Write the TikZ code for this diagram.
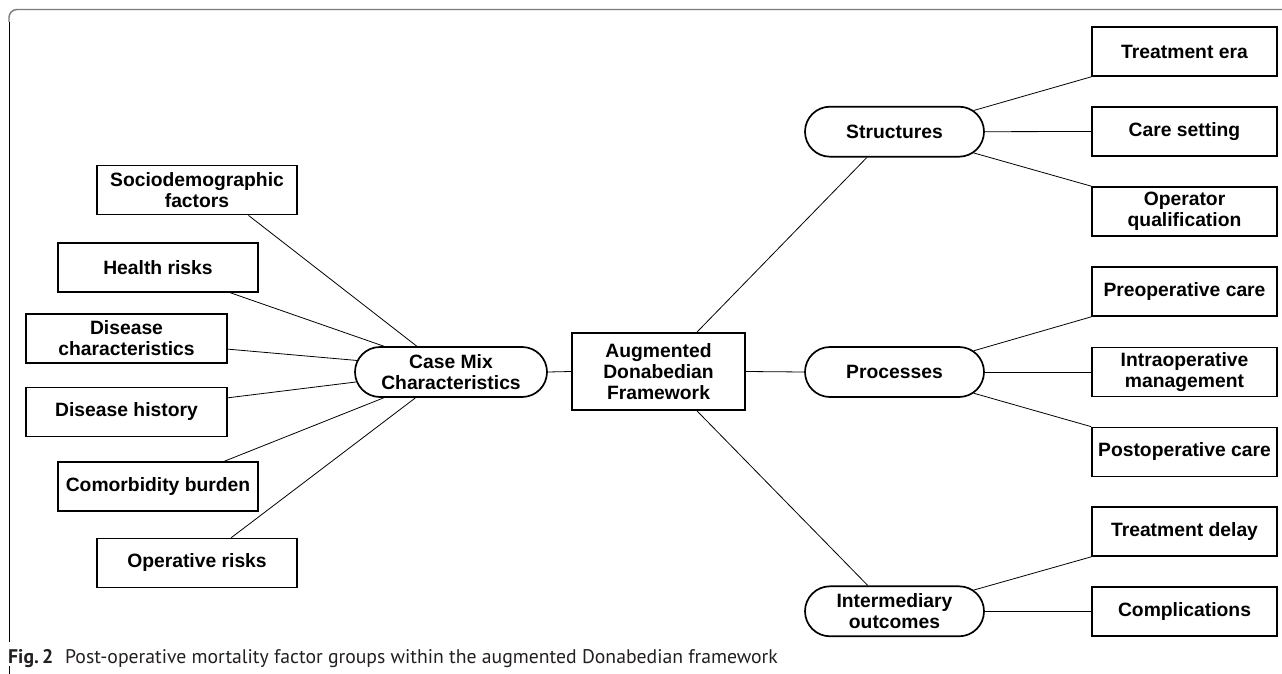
\documentclass[tikz,border=0pt]{standalone}
\usepackage{fontspec}
\setmainfont{Liberation Sans}
\newfontfamily\capfont{PT Sans}
\usetikzlibrary{shapes.misc,calc}
\definecolor{captext}{HTML}{231F20}
\definecolor{framegray}{HTML}{7A7A7A}
\begin{document}
\begin{tikzpicture}[x=1pt,y=-1pt,
  every node/.style={font=\fontsize{19.3}{21}\selectfont\bfseries, align=center, inner sep=0pt},
  box/.style={draw, line width=1.7pt, fill=white, minimum height=49pt},
  lbox/.style={box, minimum width=200pt},
  rbox/.style={box, minimum width=185pt},
  pill/.style={draw, line width=1.7pt, rounded rectangle, minimum height=50pt, fill=white},
  link/.style={line width=0.8pt},
  framelineA/.style={framegray, line width=1.4pt},
  framelineB/.style={black, line width=0.9pt}]
\useasboundingbox (0,0) rectangle (1282,674);

% frame
\draw[framelineA, rounded corners=8pt] (9,22) -- (9,9.5) -- (1282,9.5);
\draw[framelineB] (9,22) -- (9,642);
\draw[framelineB] (9,666) -- (9,674);

% left boxes
\node[lbox] (soc) at (197,190) {Sociodemographic\\factors};
\node[lbox] (health) at (158,267.5) {Health risks};
\node[lbox, minimum width=201pt] (dchar) at (126.5,338.5) {Disease\\characteristics};
\node[lbox, minimum width=201pt] (dhist) at (126.5,412) {Disease history};
\node[lbox] (comorb) at (158,486.5) {Comorbidity burden};
\node[lbox] (oper) at (197,563) {Operative risks};

% central
\node[pill, minimum width=192pt] (cm) at (451,372) {Case Mix\\Characteristics};
\node[box, minimum width=173pt, minimum height=77pt] (aug) at (658.5,371.5) {Augmented\\Donabedian\\Framework};

% right pills
\node[pill, minimum width=179pt] (struct) at (894.5,131.7) {Structures};
\node[pill, minimum width=179pt] (proc) at (894.5,372) {Processes};
\node[pill, minimum width=179pt] (inter) at (894.5,611.3) {Intermediary\\outcomes};

% right boxes
\node[rbox] (era) at (1184.5,51.5) {Treatment era};
\node[rbox] (care) at (1184.5,131.5) {Care setting};
\node[rbox] (opq) at (1184.5,211.5) {Operator\\qualification};
\node[rbox] (preop) at (1184.5,291.5) {Preoperative care};
\node[rbox] (intra) at (1184.5,372) {Intraoperative\\management};
\node[rbox] (postop) at (1184.5,452) {Postoperative care};
\node[rbox] (delay) at (1184.5,531.5) {Treatment delay};
\node[rbox] (compl) at (1184.5,611.3) {Complications};

% left connectors
\draw[link] ($(soc.south west)!0.755!(soc.south east)$) -- (cm.143.7);
\draw[link] ($(health.south west)!0.86!(health.south east)$) -- (cm.159.9);
\draw[link] ($(dchar.north east)!0.71!(dchar.south east)$) -- (cm.173.9);
\draw[link] ($(dhist.north east)!0.22!(dhist.south east)$) -- (cm.186.7);
\draw[link] ($(comorb.north west)!0.83!(comorb.north east)$) -- (cm.201.5);
\draw[link] ($(oper.north west)!0.67!(oper.north east)$) -- (cm.216.3);

% central connectors
\draw[link] (cm.east) -- (aug.west);
\draw[link] ($(aug.north west)!0.72!(aug.north east)$) -- (struct.223.7);
\draw[link] ($(aug.south west)!0.72!(aug.south east)$) -- (inter.136);
\draw[link] (aug.east) -- (proc.west);

% right connectors
\draw[link] (struct.15.4) -- (era.south west);
\draw[link] (struct.east) -- (care.west);
\draw[link] (struct.-15.4) -- (opq.north west);
\draw[link] (proc.15.4) -- (preop.south west);
\draw[link] (proc.east) -- (intra.west);
\draw[link] (proc.-15.4) -- (postop.north west);
\draw[link] (inter.15.4) -- (delay.south west);
\draw[link] (inter.east) -- (compl.west);

% caption
\node[anchor=base west, font=\capfont\fontsize{19.7}{21}\selectfont, text=captext] (cap) at (8,663)
  {\textbf{Fig.\,2}\hspace{0.6em}Post-operative mortality factor groups within the augmented Donabedian framework};
\end{tikzpicture}
\end{document}
